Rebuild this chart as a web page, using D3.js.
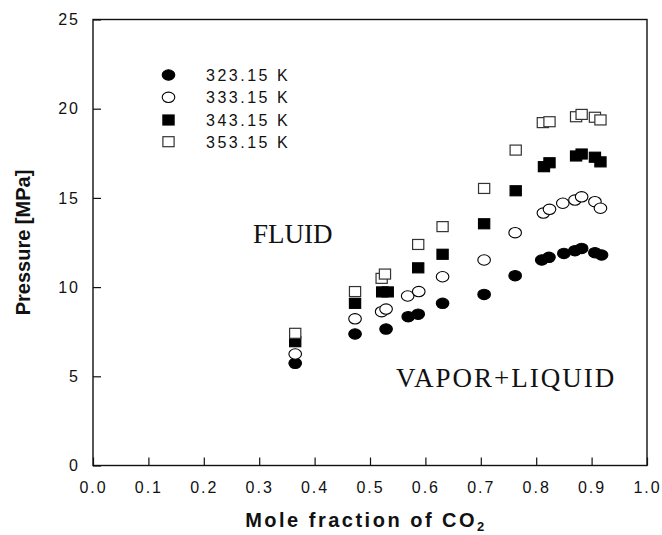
<!DOCTYPE html>
<html><head><meta charset="utf-8">
<script src="https://cdn.jsdelivr.net/npm/d3@7"></script>
<style>body{margin:0;background:#fff}svg{display:block}</style>
</head><body>
<svg id="chart" width="662" height="535"></svg>
<script>
// ---- data ----
const x323 = [0.365, 0.473, 0.529, 0.569, 0.587, 0.631, 0.706, 0.762, 0.810, 0.823, 0.850, 0.870, 0.882, 0.906, 0.918];
const p323 = [5.73, 7.37, 7.65, 8.34, 8.48, 9.09, 9.59, 10.64, 11.52, 11.67, 11.89, 12.04, 12.17, 11.93, 11.80];
const x333 = [0.365, 0.473, 0.521, 0.529, 0.568, 0.588, 0.631, 0.706, 0.762, 0.813, 0.824, 0.848, 0.870, 0.882, 0.906, 0.916];
const p333 = [6.25, 8.22, 8.62, 8.77, 9.50, 9.75, 10.58, 11.52, 13.05, 14.15, 14.36, 14.70, 14.88, 15.06, 14.79, 14.42];
const x343 = [0.365, 0.473, 0.522, 0.532, 0.587, 0.631, 0.706, 0.763, 0.814, 0.824, 0.872, 0.882, 0.906, 0.916];
const p343 = [6.94, 9.09, 9.73, 9.73, 11.08, 11.84, 13.55, 15.40, 16.75, 16.97, 17.35, 17.46, 17.28, 17.02];
const x353 = [0.365, 0.473, 0.521, 0.527, 0.587, 0.631, 0.706, 0.763, 0.812, 0.824, 0.872, 0.882, 0.906, 0.916];
const p353 = [7.41, 9.75, 10.49, 10.73, 12.39, 13.39, 15.53, 17.68, 19.22, 19.27, 19.55, 19.68, 19.52, 19.37];
const seriesNames = ["323.15 K", "333.15 K", "343.15 K", "353.15 K"];
const xTicks = [0.0, 0.1, 0.2, 0.3, 0.4, 0.5, 0.6, 0.7, 0.8, 0.9, 1.0];
const yTicks = [0, 5, 10, 15, 20, 25];
const regionLabels = ["FLUID", "VAPOR+LIQUID"];

// ---- layout ----
const L = 93, R = 647, T = 19.5, B = 465.5;
const svg = d3.select("#chart");
const x = d3.scaleLinear().domain([0, 1]).range([L, R]);
const y = d3.scaleLinear().domain([0, 25]).range([B, T]);

const series = [
  {name: seriesNames[0], xs: x323, ps: p323, shape: "circle", fill: "#000"},
  {name: seriesNames[1], xs: x333, ps: p333, shape: "circle", fill: "#fff"},
  {name: seriesNames[2], xs: x343, ps: p343, shape: "square", fill: "#000"},
  {name: seriesNames[3], xs: x353, ps: p353, shape: "square", fill: "#fff"}
];

const font = "Arial, 'Liberation Sans', sans-serif";

// frame
svg.append("rect").attr("x", L).attr("y", T).attr("width", R - L).attr("height", B - T)
  .attr("fill", "none").attr("stroke", "#111").attr("stroke-width", 1.4);

// axes with inward ticks
const xAxis = d3.axisBottom(x).tickValues(xTicks).tickFormat(d3.format(".1f")).tickSizeInner(-8).tickSizeOuter(0).tickPadding(16);
const gx = svg.append("g").attr("transform", `translate(0,${B})`).call(xAxis);
const yAxis = d3.axisLeft(y).tickValues(yTicks).tickFormat(d3.format("d")).tickSizeInner(-8).tickSizeOuter(0).tickPadding(13);
const gy = svg.append("g").attr("transform", `translate(${L},0)`).call(yAxis);
[gx, gy].forEach(g => {
  g.select(".domain").remove();
  g.selectAll(".tick line").attr("stroke", "#111").attr("stroke-width", 1.2);
  g.selectAll(".tick text").attr("font-family", font).attr("font-size", 16)
    .attr("letter-spacing", "2px").attr("fill", "#111");
});

// markers
function drawMarker(g, shape, fill, cx, cy) {
  if (shape === "circle") {
    g.append("ellipse").attr("cx", cx).attr("cy", cy).attr("rx", 6.3).attr("ry", 5.2)
      .attr("fill", fill).attr("stroke", "#000").attr("stroke-width", 1.1);
  } else {
    g.append("rect").attr("x", cx - 5.6).attr("y", cy - 5).attr("width", 11.2).attr("height", 10)
      .attr("fill", fill).attr("stroke", fill === "#000" ? "#000" : "#333").attr("stroke-width", 1.2);
  }
}
series.forEach(s => {
  const g = svg.append("g");
  s.xs.forEach((v, i) => drawMarker(g, s.shape, s.fill, x(v), y(s.ps[i])));
});

// legend
const legY = [75, 97.3, 120, 141.7];
series.forEach((s, i) => {
  const g = svg.append("g");
  drawMarker(g, s.shape, s.fill, 168.5, legY[i]);
  g.append("text").attr("x", 206).attr("y", legY[i] + 6).attr("font-family", font)
    .attr("font-size", 16).attr("letter-spacing", "2.5px").attr("fill", "#111").text(s.name);
});

// region labels
svg.append("text").attr("x", 253).attr("y", 243).attr("font-family", "'Times New Roman', 'Liberation Serif', serif")
  .attr("font-size", 27).attr("fill", "#111").text(regionLabels[0]);
svg.append("text").attr("x", 396).attr("y", 387).attr("font-family", "'Times New Roman', 'Liberation Serif', serif")
  .attr("font-size", 27).attr("letter-spacing", "2px").attr("fill", "#111").text(regionLabels[1]);

// axis titles
svg.append("text").attr("transform", `translate(30,${(T + B) / 2}) rotate(-90)`).attr("text-anchor", "middle")
  .attr("font-family", font).attr("font-weight", "bold").attr("font-size", 20).attr("fill", "#111")
  .text("Pressure [MPa]");
const xt = svg.append("text").attr("x", (L + R) / 2 - 4).attr("y", 527).attr("text-anchor", "middle")
  .attr("font-family", font).attr("font-weight", "bold").attr("font-size", 20).attr("letter-spacing", "2.5px").attr("fill", "#111");
xt.append("tspan").text("Mole fraction of CO");
xt.append("tspan").attr("font-size", 13).attr("dy", 4).text("2");
</script>
</body></html>
